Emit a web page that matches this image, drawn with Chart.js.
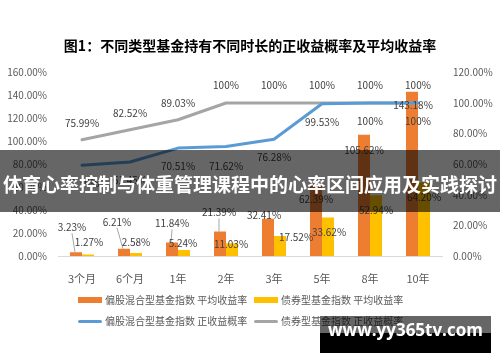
<!DOCTYPE html>
<html>
<head>
<meta charset="utf-8">
<script src="https://cdn.jsdelivr.net/npm/chart.js@4.4.1/dist/chart.umd.min.js"></script>
<style>
  body { margin: 0; background: #fff; }
  #wrap { position: relative; width: 500px; height: 362px; overflow: hidden; font-family: "Noto Sans CJK SC", sans-serif; }
  #c { position: absolute; left: 0; top: 0; }
  .item { position: absolute; font-size: 10px; color: #595959; white-space: nowrap; line-height: 14px; }
  .sw { display: inline-block; width: 24px; margin-right: 3px; vertical-align: middle; position: relative; top: -1px; }
  #banner { position: absolute; left: 0; top: 150px; width: 500px; height: 62px; background: rgba(0,0,0,0.6);
            color: #fff; font-weight: bold; font-size: 19px; text-align: center; line-height: 62px; }
  #banner span { position: relative; top: 3px; }
  #mark { position: absolute; left: 320px; top: 316px; width: 171px; height: 37px; }
  #mark .t { height: 17px; background: rgba(0,0,0,0.6); }
  #mark .b { height: 20px; background: #000; }
  #mark span { position: absolute; left: 0; top: 0; width: 171px; text-align: center; line-height: 37px; padding-top: 2px;
               color: #fff; font: bold 17px "Open Sans", sans-serif; }
</style>
</head>
<body>
<div id="wrap">
  <canvas id="c" width="500" height="362"></canvas>
  <div id="legend"></div>
  <div id="banner"><span>体育心率控制与体重管理课程中的心率区间应用及实践探讨</span></div>
  <div id="mark"><div class="t"></div><div class="b"></div><span>www.yy365tv.com</span></div>
</div>
<script>
// ===============================
// DATA
// ===============================
const categories = ["3个月", "6个月", "1年", "2年", "3年", "5年", "8年", "10年"];

// average return (left axis)
const stockAvgReturn = [3.23, 6.21, 11.84, 21.39, 32.41, 62.39, 105.62, 143.18];
const bondAvgReturn = [1.27, 2.58, 5.24, 11.03, 17.52, 33.62, 52.94, 64.20];

// probability of positive return (right axis)
const stockPosProb = [59.36, 61.45, 70.51, 71.62, 76.28, 99.53, 100, 100];
const bondPosProb = [75.99, 82.52, 89.03, 100, 100, 100, 100, 100];

const leftTicks = [0, 20, 40, 60, 80, 100, 120, 140, 160];
const rightTicks = [0, 20, 40, 60, 80, 100, 120];

// label placement (pixel offsets from the mark)
const labelOffsets = [
  { dx: [-4, -7, 0, -1, -4, 0, 0, 1], dy: [-25, -27, -19, -19, -4, 15, 15, 14], leader: [true, true, true, true, false, false, false, false] },
  { dx: [1, 0, -1, -1, 16, 1, 0, 0], dy: [-12, -11, -7, 1, 1, 15, 15, 15] },
  { dx: [0, 0, 0, 0, 0, 0, 0, 0], dy: [18, 18, 18, 20, 18, 18, 18, 18] },
  { dx: [0, 0, 0, 0, 0, 0, 0, 0], dy: [-17, -17, -17, -18, -18, -18, -18, -18] }
];

function pct(v) {
  return Number.isInteger(v) ? v + "%" : v.toFixed(2) + "%";
}

// ===============================
// DATA LABELS PLUGIN
// ===============================
const labelPlugin = {
  id: "valueLabels",
  afterDatasetsDraw(chart) {
    const ctx = chart.ctx;
    ctx.save();
    ctx.font = '10px "Noto Sans CJK SC", sans-serif';
    ctx.textAlign = "center";
    ctx.textBaseline = "middle";
    chart.data.datasets.forEach((ds, i) => {
      const meta = chart.getDatasetMeta(i);
      const off = labelOffsets[i];
      meta.data.forEach((el, j) => {
        const x = el.x + off.dx[j];
        const y = el.y + off.dy[j];
        if (off.leader && off.leader[j]) {
          ctx.strokeStyle = "#A6A6A6";
          ctx.lineWidth = 1;
          ctx.beginPath();
          ctx.moveTo(x, y + 6);
          ctx.lineTo(el.x - 1, el.y);
          ctx.stroke();
        }
        ctx.fillStyle = "#404040";
        ctx.fillText(pct(ds.data[j]), x, y);
      });
    });
    ctx.restore();
  }
};

Chart.defaults.font.family = '"Noto Sans CJK SC", sans-serif';
Chart.defaults.color = "#595959";

const chart = new Chart(document.getElementById("c"), {
  data: {
    labels: categories,
    datasets: [
      {
        type: "bar",
        label: "偏股混合型基金指数 平均收益率",
        data: stockAvgReturn,
        backgroundColor: "#ED7D31",
        yAxisID: "y",
        order: 2,
        categoryPercentage: 0.5,
        barPercentage: 1
      },
      {
        type: "bar",
        label: "债券型基金指数 平均收益率",
        data: bondAvgReturn,
        backgroundColor: "#FFC000",
        yAxisID: "y",
        order: 2,
        categoryPercentage: 0.5,
        barPercentage: 1
      },
      {
        type: "line",
        label: "偏股混合型基金指数 正收益概率",
        data: stockPosProb,
        borderColor: "#5B9BD5",
        borderWidth: 3,
        pointRadius: 0,
        borderJoinStyle: "round",
        borderCapStyle: "round",
        yAxisID: "y1",
        order: 1
      },
      {
        type: "line",
        label: "债券型基金指数 正收益概率",
        data: bondPosProb,
        borderColor: "#A5A5A5",
        borderWidth: 3,
        pointRadius: 0,
        borderJoinStyle: "round",
        borderCapStyle: "round",
        yAxisID: "y1",
        order: 1
      }
    ]
  },
  options: {
    responsive: false,
    animation: false,
    devicePixelRatio: 1,
    layout: { padding: { top: 0, bottom: 76, left: 0, right: 0 } },
    plugins: {
      legend: { display: false },
      tooltip: { enabled: false },
      title: {
        display: true,
        text: "图1：不同类型基金持有不同时长的正收益概率及平均收益率",
        color: "#000",
        font: { size: 14, weight: "bold" },
        padding: { top: 37, bottom: 18.6 }
      }
    },
    scales: {
      x: {
        grid: { display: false },
        border: { color: "#D9D9D9", width: 1 },
        ticks: { font: { size: 11 }, padding: 8 },
        afterFit(s) { s.height = 30; }
      },
      y: {
        position: "left",
        min: leftTicks[0],
        max: leftTicks[leftTicks.length - 1],
        grid: { display: false, drawTicks: false },
        border: { display: false },
        ticks: { stepSize: 20, padding: 11, font: { size: 10 }, callback: v => v.toFixed(2) + "%" },
        afterBuildTicks(s) { s.ticks = leftTicks.map(v => ({ value: v })); },
        afterFit(s) { s.width = 58; }
      },
      y1: {
        position: "right",
        min: rightTicks[0],
        max: rightTicks[rightTicks.length - 1],
        grid: { display: false, drawTicks: false },
        border: { display: false },
        ticks: { stepSize: 20, padding: 11, font: { size: 10 }, callback: v => v.toFixed(2) + "%" },
        afterBuildTicks(s) { s.ticks = rightTicks.map(v => ({ value: v })); },
        afterFit(s) { s.width = 58; }
      }
    }
  },
  plugins: [labelPlugin]
});

// ===============================
// LEGEND (two rows, as in the original)
// ===============================
const legendPos = [[78, 293], [254, 293], [78, 314], [254, 314]];
const legend = document.getElementById("legend");
chart.data.datasets.forEach((ds, i) => {
  const item = document.createElement("div");
  item.className = "item";
  item.style.left = legendPos[i][0] + "px";
  item.style.top = legendPos[i][1] + "px";
  const sw = document.createElement("span");
  sw.className = "sw";
  if (ds.type === "bar") {
    sw.style.height = "6px";
    sw.style.background = ds.backgroundColor;
  } else {
    sw.style.height = "3px";
    sw.style.borderRadius = "2px";
    sw.style.background = ds.borderColor;
  }
  item.appendChild(sw);
  item.appendChild(document.createTextNode(ds.label));
  legend.appendChild(item);
});
</script>
</body>
</html>
